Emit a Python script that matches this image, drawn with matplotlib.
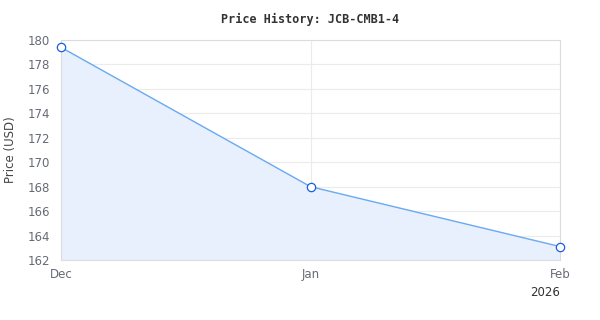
import matplotlib
matplotlib.use("Agg")
import matplotlib.pyplot as plt
import pandas as pd

# data
dates = pd.to_datetime(["2025-12-01", "2026-01-01", "2026-02-01"])
prices = [179.4, 168.0, 163.1]
month_labels = ["Dec", "Jan", "Feb"]
yticks = [162, 164, 166, 168, 170, 172, 174, 176, 178, 180]

fig = plt.figure(figsize=(6, 3.2), dpi=100)
ax = fig.add_axes([61 / 600, 60 / 320, 499 / 600, 220 / 320])

ax.fill_between(dates, prices, 162, color="#e8f0fd", zorder=1)
ax.plot(dates, prices, color="#6aaaf0", lw=1, zorder=2)
ax.plot(dates, prices, ls="none", marker="o", ms=6, mfc="white",
        mec="#1a5fe0", mew=0.9, zorder=3, clip_on=False)

ax.set_xlim(dates[0], dates[-1])
ax.set_ylim(162, 180)
ax.set_yticks(yticks)
ax.set_xticks(dates)
ax.set_xticklabels(month_labels)

ax.grid(True, color="#ebebeb", lw=0.8, zorder=0)
ax.set_axisbelow(True)
for s in ax.spines.values():
    s.set_color("#dcdcdc")
    s.set_linewidth(0.8)
ax.tick_params(length=0, colors="#666a75", labelsize=8.5, pad=6)
ax.tick_params(axis="y", pad=8)

# y label placed by hand so it sits where the reference has it
fig.text(11 / 600, 0.5 + 10 / 320, "Price (USD)", rotation=90, ha="center",
         va="center", fontsize=8.5, color="#444444")
ax.set_title("Price History: JCB-CMB1-4", fontsize=8.5, fontweight="bold",
             family="DejaVu Sans Mono", color="#333333", pad=12)
ax.text(1.0, -0.12, "2026", transform=ax.transAxes, ha="right", va="top",
        fontsize=8.5, color="#333333")

fig.savefig("out.png", dpi=100)
